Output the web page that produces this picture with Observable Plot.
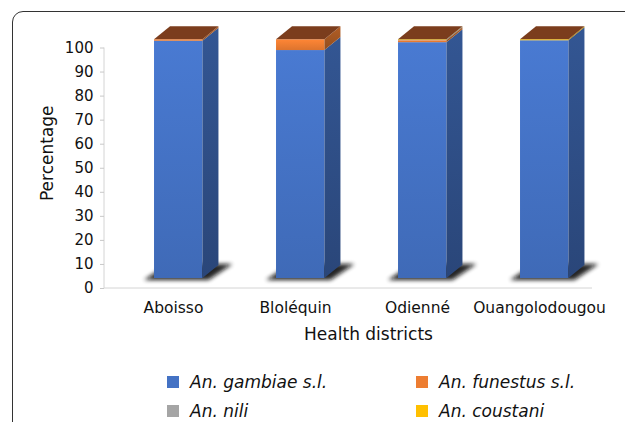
<!DOCTYPE html>
<html><head><meta charset="utf-8">
<script src="https://cdn.jsdelivr.net/npm/d3@7"></script>
<script src="https://cdn.jsdelivr.net/npm/@observablehq/plot@0.6"></script>
<style>
body{margin:0;background:#fff;}
#wrap{position:relative;width:625px;height:422px;overflow:hidden;font-family:"DejaVu Sans",sans-serif;background:#fff;}
#frame{position:absolute;left:12px;top:11px;width:700px;height:500px;border:1px solid #333;border-radius:11px;}
#chart{position:absolute;left:0;top:0;}
#legend{position:absolute;left:0;top:0;width:625px;height:422px;}
.item{position:absolute;font-style:italic;font-size:17px;line-height:20px;color:#111;display:flex;align-items:center;white-space:nowrap;}
.sw{width:12px;height:12px;margin-right:11px;flex:none;}
</style></head>
<body><div id="wrap"><div id="frame"></div><div id="chart"></div><div id="legend"></div></div>
<script>
const districts = ["Aboisso", "Bloléquin", "Odienné", "Ouangolodougou"];
const species = ["An. gambiae s.l.", "An. funestus s.l.", "An. nili", "An. coustani"];
const gambiae = [99.4, 95.5, 98.8, 99.6];
const funestus = [0.6, 4.5, 0.8, 0];
const nili = [0, 0, 0.3, 0];
const coustani = [0, 0, 0.1, 0.4];
const yTicks = [0, 10, 20, 30, 40, 50, 60, 70, 80, 90, 100];
const colors = ["#4472c4", "#ed7d31", "#a5a5a5", "#ffc000"];
const topColor = "#7b3d1d";

const series = [gambiae, funestus, nili, coustani];
const rows = [];
districts.forEach((d, i) => {
  let c = 0;
  series.forEach((s, j) => {
    const v = s[i];
    if (v > 0) rows.push({district: d, species: species[j], sj: j, y1: c, y2: c + v});
    c += v;
  });
});

const FLOOR = 10, PERSP = 0.9925, DX = 16, DY = 13, F0 = 0.41, F1 = 0.807;

function bars3d(index, scales, values, dims) {
  const X = scales.x, Y = scales.y;
  const bw = typeof X.bandwidth === "function" ? X.bandwidth() : (dims.width - dims.marginLeft - dims.marginRight) / districts.length;
  const y0 = Y(0);
  const f = py => y0 - FLOOR + (py - y0) * PERSP;
  const g = d3.create("svg:g");
  const defs = g.append("defs");
  colors.forEach((c, j) => {
    const a = defs.append("linearGradient").attr("id", "fr" + j).attr("x1", 0).attr("y1", 0).attr("x2", 0).attr("y2", 1);
    a.append("stop").attr("offset", 0).attr("stop-color", d3.color(c).brighter(0.2).formatHex());
    a.append("stop").attr("offset", 1).attr("stop-color", d3.color(c).darker(0.2).formatHex());
    const b = defs.append("linearGradient").attr("id", "sd" + j).attr("x1", 0).attr("y1", 0).attr("x2", 0).attr("y2", 1);
    b.append("stop").attr("offset", 0).attr("stop-color", d3.color(c).darker(0.8).formatHex());
    b.append("stop").attr("offset", 1).attr("stop-color", d3.color(c).darker(1.35).formatHex());
  });
  const flt = defs.append("filter").attr("id", "blur3d").attr("x", "-20%").attr("y", "-50%").attr("width", "140%").attr("height", "200%");
  flt.append("feGaussianBlur").attr("stdDeviation", 2.2);
  const pts = a => a.map(p => p.join(",")).join(" ");
  // shadows
  districts.forEach(d => {
    const bx = X(d), x0 = bx + F0 * bw, x1 = bx + F1 * bw, yb = f(y0);
    g.append("polygon")
      .attr("points", pts([[x0 - 10, yb + 2], [x1 + 6, yb + 2], [x1 + DX + 14, yb - DY - 1], [x0 + DX - 2, yb - DY - 1]]))
      .attr("fill", "#111").attr("opacity", 0.9).attr("filter", "url(#blur3d)");
  });
  // segments
  for (const i of index) {
    const bx = values.x[i], x0 = bx + F0 * bw, x1 = bx + F1 * bw;
    const yb = f(values.y1[i]), yt = f(values.y2[i]);
    const j = rows[i].sj;
    g.append("rect").attr("x", x0).attr("y", yt).attr("width", x1 - x0).attr("height", Math.max(0.6, yb - yt))
      .attr("fill", `url(#fr${j})`);
    g.append("polygon").attr("points", pts([[x1, yb], [x1 + DX, yb - DY], [x1 + DX, yt - DY], [x1, yt]]))
      .attr("fill", `url(#sd${j})`);
  }
  // top faces
  districts.forEach((d, i) => {
    const total = series.reduce((s, a) => s + a[i], 0);
    const bx = X(d), x0 = bx + F0 * bw, x1 = bx + F1 * bw, yt = f(Y(total));
    g.append("polygon").attr("points", pts([[x0, yt], [x1, yt], [x1 + DX, yt - DY], [x0 + DX, yt - DY]]))
      .attr("fill", topColor);
  });
  return g.node();
}

function axesLines(index, scales, values, dims) {
  const g = d3.create("svg:g");
  const xl = dims.marginLeft, xr = dims.width - dims.marginRight;
  const yb = scales.y(0), yt = scales.y(100);
  g.append("line").attr("x1", xl).attr("x2", xl).attr("y1", yt).attr("y2", yb).attr("stroke", "#d4d4d4");
  g.append("line").attr("x1", xl).attr("x2", xr).attr("y1", yb).attr("y2", yb).attr("stroke", "#d4d4d4");
  return g.node();
}

const plot = Plot.plot({
  width: 625,
  height: 350,
  marginLeft: 104,
  marginRight: 33,
  marginTop: 47.5,
  marginBottom: 62,
  style: {fontFamily: "DejaVu Sans, sans-serif", background: "transparent", color: "#111"},
  x: {domain: districts, padding: 0},
  y: {domain: [0, 100]},
  color: {domain: species, range: colors},
  marks: [
    Plot.frame({stroke: "none", render: axesLines}),
    Plot.axisY({ticks: yTicks, tickSize: 4, tickPadding: 7, fontSize: 15, stroke: "#c8c8c8", label: null}),
    Plot.axisX({tickSize: 0, tickPadding: 13, fontSize: 15.5, dx: 8, label: null}),
    Plot.text(["Health districts"], {frameAnchor: "bottom", dx: 20, dy: 46, fontSize: 17, lineAnchor: "middle"}),
    Plot.text(["Percentage"], {frameAnchor: "left", textAnchor: "middle", dx: -57, dy: -15, rotate: -90, fontSize: 17, lineAnchor: "middle"}),
    Plot.barY(rows, {x: "district", y1: "y1", y2: "y2", fill: "species", render: bars3d})
  ]
});
document.getElementById("chart").appendChild(plot);

const leg = document.getElementById("legend");
const cols = [167, 416], rowsY = [372, 401];
species.forEach((s, j) => {
  const it = document.createElement("div");
  it.className = "item";
  it.style.left = cols[j % 2] + "px";
  it.style.top = rowsY[Math.floor(j / 2)] + "px";
  const sw = document.createElement("span");
  sw.className = "sw";
  sw.style.background = colors[j];
  const tx = document.createElement("span");
  tx.textContent = s;
  it.appendChild(sw); it.appendChild(tx);
  leg.appendChild(it);
});
</script>
</body></html>
